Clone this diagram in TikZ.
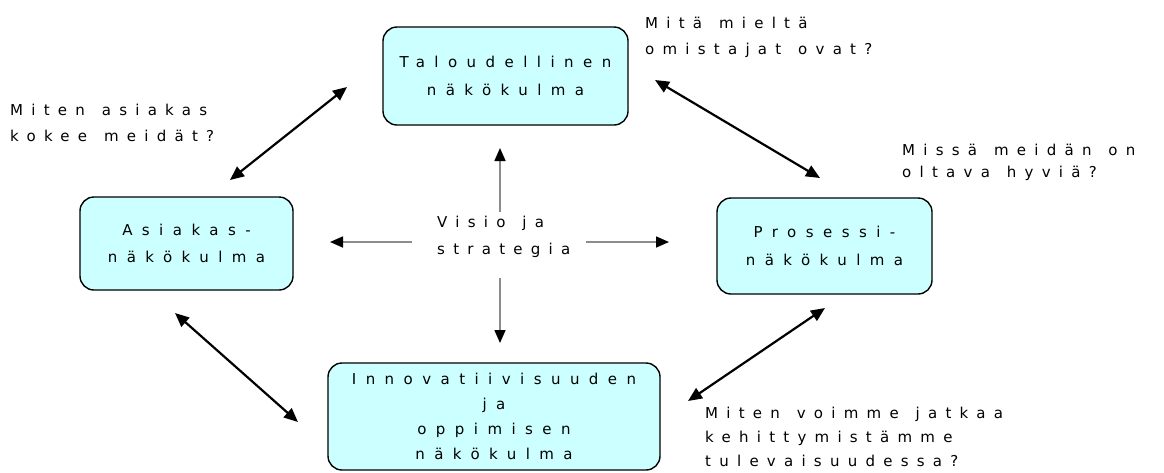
\documentclass[tikz,border=0pt]{standalone}
\usepackage{fontspec}
\newfontfamily\boxfont[LetterSpace=63]{DejaVu Sans}
\newfontfamily\askfont[LetterSpace=55,WordSpace=1.3]{DejaVu Sans}
\usetikzlibrary{arrows.meta}
\definecolor{boxcyan}{HTML}{CCFFFF}
\tikzset{
  view/.style={draw=black, line width=1.4pt, fill=boxcyan, rounded corners=14pt,
    align=center, inner sep=0pt},
  note/.style={anchor=north west, align=left, inner sep=0pt},
  twoway/.style={line width=2.2pt, {Triangle[length=14pt,width=12pt]}-{Triangle[length=14pt,width=12pt]}},
  outward/.style={line width=1.6pt, color=black!45, -{Triangle[length=13pt,width=11pt,color=black]}}
}
\newcommand{\pix}[1]{\boxfont\fontsize{15}{#1}\selectfont}
\newcommand{\ask}[1]{\askfont\fontsize{15}{#1}\selectfont}
\begin{document}
\begin{tikzpicture}[x=1pt,y=-1pt]
  \useasboundingbox (0,0) rectangle (1164,472);

  % perspectives
  \node[view, minimum width=245pt, minimum height=98pt, font=\pix{28}] (tal) at (505.5,76) {Taloudellinen\\näkökulma};
  \node[view, minimum width=213pt, minimum height=93pt, font=\pix{27}] (asi) at (186.5,243.5) {Asiakas-\\näkökulma};
  \node[view, minimum width=215pt, minimum height=96pt, font=\pix{28}] (pro) at (824.5,246) {Prosessi-\\näkökulma};
  \node[view, minimum width=332pt, minimum height=107pt, font=\pix{25}] (inn) at (494,416.5) {Innovatiivisuuden\\ja\\oppimisen\\näkökulma};

  % vision in the middle
  \node[note, font=\ask{27}] (vis) at (437,216) {Visio ja\\strategia};

  % questions
  \node[note, font=\ask{26}] (q1) at (645,17) {Mitä mieltä\\omistajat ovat?};
  \node[note, font=\ask{26}] (q2) at (10,104) {Miten asiakas\\kokee meidät?};
  \node[note, font=\ask{22}] (q3) at (902,144) {Missä meidän on\\oltava hyviä?};
  \node[note, font=\ask{24}] (q4) at (705,407) {Miten voimme jatkaa\\kehittymistämme\\tulevaisuudessa?};

  % arrow ends
  \coordinate (c1) at (500,212);
  \coordinate (c2) at (500,148);
  \coordinate (c3) at (500,278);
  \coordinate (c4) at (500,343);
  \coordinate (c5) at (412,242);
  \coordinate (c6) at (330,242);
  \coordinate (c7) at (586,242);
  \coordinate (c8) at (669,242);

  \coordinate (d1) at (230,180);
  \coordinate (d2) at (347,87);
  \coordinate (d3) at (655,80);
  \coordinate (d4) at (820,178);
  \coordinate (d5) at (825,308);
  \coordinate (d6) at (688,401);
  \coordinate (d7) at (175,313);
  \coordinate (d8) at (298,422);

  \draw[outward] (c1) -- (c2);
  \draw[outward] (c3) -- (c4);
  \draw[outward] (c5) -- (c6);
  \draw[outward] (c7) -- (c8);

  \draw[twoway] (d1) -- (d2);
  \draw[twoway] (d3) -- (d4);
  \draw[twoway] (d5) -- (d6);
  \draw[twoway] (d7) -- (d8);
\end{tikzpicture}
\end{document}
